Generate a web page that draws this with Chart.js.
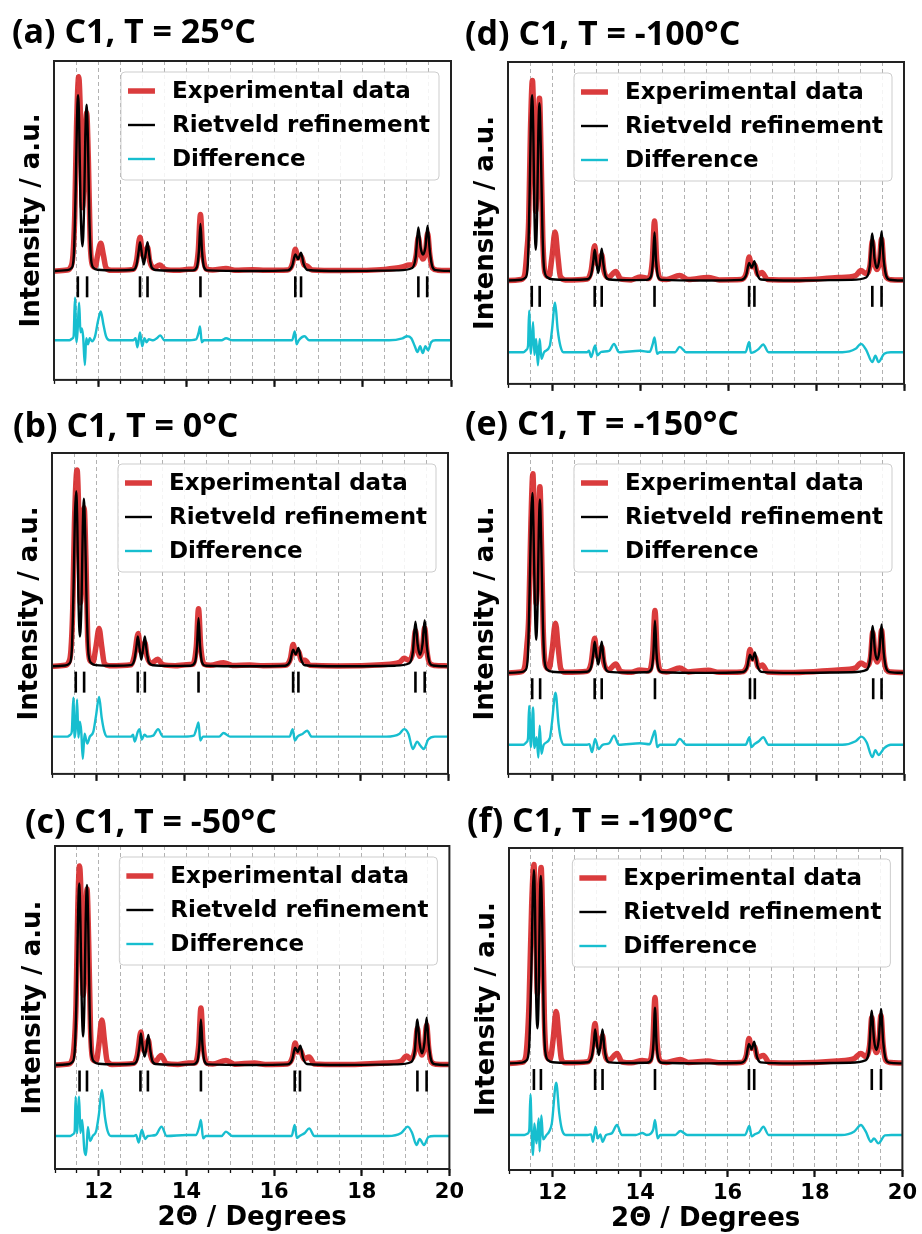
<!DOCTYPE html>
<html>
<head>
<meta charset="utf-8">
<script src="https://cdn.jsdelivr.net/npm/chart.js"></script>
<style>
  html, body { margin: 0; padding: 0; background: #fff; overflow: hidden; }
  body { width: 922px; height: 1234px; position: relative; }
  canvas { position: absolute; }
</style>
</head>
<body>
<script>
// shared axis values
const xMin = 11, xMax = 20;
const majorTicks = [12, 14, 16, 18, 20];
const seriesNames = ["Experimental data", "Rietveld refinement", "Difference"];
const tickRowY = -8; // level of the reflection markers, in data units

// ---- (a) T = 25°C ----
const markA = [11.54, 11.75, 12.95, 13.12, 14.32, 16.47, 16.60, 19.26, 19.46];
const expA = [[11.00,0],[11.30,0.5],[11.38,2],[11.43,8],[11.47,28],[11.51,72],[11.56,98],[11.60,78],[11.645,32],[11.69,52],[11.74,80],[11.78,55],[11.82,15],[11.87,3],[11.93,2],[11.99,8],[12.06,14],[12.12,8],[12.18,1.5],[12.30,0.3],[12.80,0.8],[12.87,5],[12.95,17],[13.00,9],[13.04,7],[13.08,9.5],[13.12,12],[13.17,5],[13.26,1.5],[13.40,3],[13.52,0.8],[13.80,0.3],[14.05,0.8],[14.20,1],[14.27,10],[14.32,28.5],[14.37,10],[14.45,1],[14.60,0.5],[14.90,1.3],[15.10,0.4],[15.50,0.6],[15.80,0.3],[16.30,0.5],[16.41,4],[16.47,11],[16.53,6.5],[16.60,7.5],[16.67,3],[16.74,2.5],[16.85,0.5],[17.50,0.2],[18.50,0.8],[18.90,2],[19.05,3],[19.15,3],[19.21,8],[19.26,17],[19.31,9],[19.365,6],[19.42,9],[19.47,19],[19.52,8],[19.58,1.5],[19.70,0.4],[20.00,0.2]];
const calcA = [[11.00,0],[11.30,0.4],[11.40,1.5],[11.45,8],[11.49,40],[11.52,75],[11.545,88.7],[11.57,75],[11.60,35],[11.645,12.5],[11.68,30],[11.71,68],[11.74,84],[11.77,65],[11.80,28],[11.84,6],[11.90,1.5],[12.00,0.6],[12.40,0.3],[12.80,0.6],[12.87,3],[12.92,10],[12.95,14.5],[12.99,9],[13.035,3.3],[13.08,9],[13.12,14.5],[13.16,8],[13.21,2],[13.30,0.5],[13.70,0.2],[14.15,0.3],[14.24,2],[14.285,10],[14.32,23.7],[14.355,10],[14.40,2],[14.48,0.3],[15.50,0],[16.30,0.3],[16.40,2.5],[16.47,8.3],[16.535,6],[16.60,9.2],[16.66,3.5],[16.75,0.5],[17.50,0],[18.80,0.3],[19.12,1.5],[19.20,7],[19.26,22],[19.31,12],[19.365,8.3],[19.42,12],[19.47,22.8],[19.52,10],[19.58,2],[19.66,0.4],[20.00,0]];
const diffA = [[11.00,-35],[11.35,-35],[11.42,-34],[11.445,-33],[11.475,-13.5],[11.51,-36],[11.535,-30],[11.57,-16],[11.60,-31],[11.63,-29],[11.66,-33],[11.70,-47.5],[11.73,-34],[11.77,-37],[11.81,-34],[11.86,-35.5],[11.93,-33],[12.00,-25],[12.06,-20.5],[12.12,-27],[12.18,-33],[12.26,-35],[12.80,-35],[12.85,-34],[12.89,-38.5],[12.95,-31],[13.00,-38],[13.05,-34],[13.10,-36],[13.15,-34.5],[13.25,-35],[13.33,-34],[13.41,-32.5],[13.50,-35],[14.00,-35],[14.22,-34.5],[14.28,-31],[14.31,-28],[14.35,-36],[14.40,-35],[14.80,-35],[14.90,-34],[15.05,-35],[16.40,-35],[16.46,-30.5],[16.50,-37],[16.55,-35],[16.68,-33],[16.78,-35],[18.60,-35],[18.90,-34],[19.00,-33],[19.10,-34],[19.18,-38],[19.24,-41],[19.30,-38],[19.36,-41.5],[19.42,-38],[19.48,-40],[19.55,-36],[19.65,-35],[20.00,-35]];

// ---- (b) T = 0°C ----
const markB = [11.54, 11.73, 12.95, 13.11, 14.33, 16.48, 16.60, 19.26, 19.47];
const expB = [[11.00,0],[11.30,0.5],[11.38,2],[11.43,8],[11.47,28],[11.51,72],[11.57,99],[11.61,75],[11.645,32],[11.69,52],[11.73,80],[11.77,55],[11.81,15],[11.86,3],[11.93,2],[12.00,10],[12.07,19],[12.13,10],[12.19,1.5],[12.30,0.3],[12.80,0.8],[12.87,5],[12.96,16.5],[13.00,9],[13.04,7],[13.08,9.5],[13.11,12],[13.16,5],[13.26,1.5],[13.40,3.5],[13.52,0.8],[13.80,0.3],[14.05,0.8],[14.20,1],[14.28,10],[14.33,29],[14.38,10],[14.46,1],[14.60,0.5],[14.90,1.8],[15.10,0.4],[15.50,0.6],[15.80,0.3],[16.30,0.5],[16.42,4],[16.48,11],[16.54,6.5],[16.60,7.5],[16.67,3],[16.75,3],[16.86,0.5],[17.50,0.2],[18.50,0.8],[18.90,2],[19.00,4],[19.12,3],[19.21,8],[19.26,18],[19.31,9],[19.365,5],[19.42,9],[19.47,19.5],[19.52,8],[19.58,1.5],[19.70,0.4],[20.00,0.2]];
const calcB = [[11.00,0],[11.30,0.4],[11.40,1.5],[11.45,8],[11.49,40],[11.52,75],[11.55,88.3],[11.575,72],[11.60,35],[11.635,15],[11.67,32],[11.70,70],[11.725,84.5],[11.755,65],[11.79,28],[11.83,6],[11.90,1.5],[12.00,0.6],[12.40,0.3],[12.80,0.6],[12.87,3],[12.92,10],[12.95,15],[12.99,9],[13.03,3.3],[13.07,9],[13.11,15],[13.15,8],[13.20,2],[13.30,0.5],[13.70,0.2],[14.15,0.3],[14.25,2],[14.295,10],[14.33,24.2],[14.365,10],[14.41,2],[14.49,0.3],[15.50,0],[16.30,0.3],[16.41,2.5],[16.48,8.3],[16.54,6],[16.60,9.2],[16.66,3.5],[16.75,0.5],[17.50,0],[18.80,0.3],[19.12,1.5],[19.20,7],[19.26,22.5],[19.31,11],[19.365,5.8],[19.42,11],[19.47,23.3],[19.52,10],[19.58,2],[19.66,0.4],[20.00,0]];
const diffB = [[11.00,-35.5],[11.35,-35.5],[11.42,-34.5],[11.45,-33],[11.485,-15.8],[11.515,-36],[11.545,-30],[11.57,-16.7],[11.60,-36],[11.635,-28],[11.665,-33],[11.70,-46.7],[11.74,-34],[11.80,-39],[11.86,-35.5],[11.94,-33],[12.00,-25],[12.07,-15.5],[12.13,-26],[12.19,-33],[12.25,-35.5],[12.80,-35.5],[12.84,-34.5],[12.88,-38],[12.95,-33],[12.99,-31.7],[13.04,-37],[13.10,-34.5],[13.16,-35.5],[13.30,-35],[13.41,-31.7],[13.52,-35.5],[14.00,-35.5],[14.22,-35],[14.29,-31],[14.33,-28.3],[14.37,-37.5],[14.43,-35.5],[14.80,-35.5],[14.90,-33.7],[15.05,-35.5],[16.40,-35.5],[16.47,-31.7],[16.52,-37.5],[16.58,-35.5],[16.70,-34],[16.80,-32.5],[16.90,-35.5],[18.60,-35.5],[18.90,-34],[19.00,-31.7],[19.10,-34],[19.20,-41.7],[19.30,-38],[19.37,-40],[19.45,-41.7],[19.55,-37],[19.70,-35.5],[20.00,-35.5]];

// ---- (c) T = -50°C ----
const markC = [11.56, 11.73, 12.95, 13.12, 14.33, 16.47, 16.59, 19.27, 19.48];
const expC = [[11.00,0],[11.30,0.5],[11.38,2],[11.43,8],[11.48,30],[11.52,78],[11.56,99.5],[11.60,80],[11.645,35],[11.69,60],[11.73,88],[11.77,60],[11.81,18],[11.86,3],[11.94,2],[12.00,10],[12.07,22.5],[12.13,12],[12.19,2],[12.30,0.3],[12.80,0.8],[12.88,5],[12.96,16.5],[13.00,9],[13.045,7],[13.09,10],[13.13,12.5],[13.18,5],[13.28,1.5],[13.42,4.8],[13.54,0.8],[13.80,0.3],[14.05,1],[14.20,1],[14.28,10],[14.33,28.5],[14.38,10],[14.46,1],[14.60,0.5],[14.90,2.3],[15.10,0.4],[15.55,1],[15.80,0.3],[16.30,0.5],[16.42,4],[16.48,11],[16.54,6.5],[16.60,7.5],[16.68,3],[16.80,4],[16.92,0.5],[17.50,0.2],[18.50,1],[18.90,2],[19.02,4.5],[19.12,3],[19.22,8],[19.27,18.5],[19.32,9],[19.375,5],[19.43,9],[19.48,20],[19.53,8],[19.59,1.5],[19.70,0.4],[20.00,0.2]];
const calcC = [[11.00,0],[11.30,0.4],[11.40,1.5],[11.45,7],[11.50,42],[11.53,78],[11.555,90.8],[11.58,72],[11.61,32],[11.64,14.2],[11.67,30],[11.70,72],[11.73,90],[11.76,68],[11.79,28],[11.83,6],[11.90,1.5],[12.00,0.6],[12.40,0.3],[12.80,0.6],[12.88,3],[12.93,10],[12.96,15.8],[13.00,9],[13.045,4.2],[13.09,9],[13.13,15],[13.17,8],[13.22,2],[13.30,0.5],[13.70,0.2],[14.15,0.3],[14.25,2],[14.295,10],[14.33,22.8],[14.365,10],[14.41,2],[14.49,0.3],[15.50,0],[16.30,0.3],[16.41,2.5],[16.48,8.7],[16.54,6.5],[16.60,9.7],[16.66,3.5],[16.75,0.5],[17.50,0],[18.80,0.3],[19.13,1.5],[19.21,7],[19.27,22.8],[19.32,11],[19.375,5.8],[19.43,11],[19.48,23.7],[19.53,10],[19.59,2],[19.67,0.4],[20.00,0]];
const diffC = [[11.00,-35.5],[11.35,-35.5],[11.42,-34.5],[11.45,-33],[11.47,-15.8],[11.50,-34],[11.55,-15.8],[11.58,-34],[11.62,-27.5],[11.67,-42.5],[11.71,-45],[11.75,-31],[11.80,-38],[11.86,-35.5],[11.94,-33],[12.00,-25],[12.07,-12.5],[12.14,-26],[12.20,-33],[12.28,-35.5],[12.80,-35.5],[12.85,-35],[12.91,-38.8],[12.98,-32.5],[13.06,-37],[13.12,-35.5],[13.30,-35],[13.43,-30.8],[13.55,-35.5],[14.00,-35],[14.22,-35],[14.29,-31],[14.33,-27.5],[14.38,-36.7],[14.44,-35.5],[14.80,-35.5],[14.90,-33.3],[15.05,-35.5],[16.40,-35.5],[16.47,-30],[16.52,-36.5],[16.58,-35.5],[16.70,-34],[16.80,-31.7],[16.92,-35.5],[18.60,-35.5],[18.90,-34],[19.05,-30.8],[19.15,-34],[19.25,-40],[19.32,-37],[19.42,-40],[19.52,-36],[19.65,-35.5],[20.00,-35.5]];

// ---- (d) T = -100°C ----
const markD = [11.54, 11.72, 12.97, 13.13, 14.33, 16.48, 16.60, 19.28, 19.49];
const expD = [[11.00,0],[11.30,0.5],[11.38,3],[11.43,15],[11.47,30],[11.51,75],[11.555,101],[11.595,70],[11.63,35],[11.67,60],[11.715,92],[11.75,65],[11.79,22],[11.84,4],[11.93,2],[12.00,12],[12.07,24.5],[12.13,13],[12.19,2],[12.30,0.3],[12.80,0.8],[12.89,5],[12.97,17.5],[13.01,10],[13.05,8],[13.09,10.5],[13.13,13],[13.18,5],[13.28,1.5],[13.45,4.5],[13.56,0.8],[13.80,0.3],[14.00,1.8],[14.20,1],[14.28,10],[14.33,30],[14.38,10],[14.46,1],[14.60,0.5],[14.90,2.5],[15.10,0.5],[15.55,1.5],[15.80,0.3],[16.30,0.5],[16.42,4],[16.48,11.8],[16.54,7],[16.60,8],[16.68,3],[16.77,4],[16.90,0.5],[17.50,0.2],[18.50,1.5],[18.90,2.5],[19.02,5],[19.14,3.5],[19.23,8],[19.28,20],[19.33,9],[19.385,5.5],[19.44,9],[19.49,21],[19.54,8],[19.60,1.5],[19.70,0.4],[20.00,0.2]];
const calcD = [[11.00,0],[11.30,0.4],[11.40,1.5],[11.45,8],[11.49,42],[11.52,80],[11.55,93.5],[11.575,75],[11.60,35],[11.63,15.5],[11.66,32],[11.69,75],[11.715,89.5],[11.745,68],[11.78,28],[11.82,6],[11.90,1.5],[12.00,0.6],[12.40,0.3],[12.80,0.6],[12.89,3],[12.94,10],[12.97,15.5],[13.01,9],[13.05,3.8],[13.09,9],[13.13,16],[13.17,8],[13.22,2],[13.30,0.5],[13.70,0.2],[14.15,0.3],[14.25,2],[14.295,10],[14.33,24.3],[14.365,10],[14.41,2],[14.49,0.3],[15.50,0],[16.30,0.3],[16.41,2.5],[16.48,8.8],[16.54,6.5],[16.60,9.7],[16.66,3.5],[16.75,0.5],[17.50,0],[18.80,0.3],[19.14,1.5],[19.22,7],[19.28,23.8],[19.33,11],[19.385,6.3],[19.44,11],[19.49,24.7],[19.54,10],[19.60,2],[19.68,0.4],[20.00,0]];
const diffD = [[11.00,-36.2],[11.35,-36.2],[11.42,-35],[11.455,-33],[11.48,-15.3],[11.52,-37],[11.57,-21],[11.60,-37.5],[11.64,-29.5],[11.68,-42.8],[11.72,-29.5],[11.76,-39.5],[11.82,-36.2],[11.95,-33],[12.00,-25],[12.07,-11.2],[12.13,-25],[12.19,-33],[12.26,-36.2],[12.80,-36.2],[12.84,-35.5],[12.89,-38.7],[12.98,-32.8],[13.03,-37.8],[13.12,-36],[13.30,-35.5],[13.41,-32],[13.52,-36.2],[14.00,-35.5],[14.22,-36],[14.29,-32],[14.33,-28.7],[14.39,-37],[14.45,-36.2],[14.80,-36.2],[14.90,-33.5],[15.05,-36.2],[16.40,-36.2],[16.48,-31],[16.52,-36.5],[16.60,-36],[16.70,-34.5],[16.80,-32.3],[16.92,-36.2],[18.60,-36.2],[18.90,-34.5],[19.02,-32],[19.14,-35],[19.28,-41.2],[19.35,-38],[19.42,-41.2],[19.55,-37],[19.70,-36.2],[20.00,-36.2]];

// ---- (e) T = -150°C ----
const markE = [11.55, 11.73, 12.97, 13.13, 14.34, 16.50, 16.61, 19.30, 19.49];
const expE = [[11.00,0],[11.30,0.5],[11.38,3],[11.43,14],[11.47,27.5],[11.52,75],[11.565,100.5],[11.60,72],[11.64,35],[11.68,62],[11.725,94],[11.76,65],[11.80,22],[11.85,4],[11.93,2],[12.00,11],[12.08,25],[12.14,13],[12.20,2],[12.30,0.3],[12.80,0.8],[12.89,5],[12.97,17.5],[13.01,10],[13.05,8],[13.09,10.5],[13.13,13],[13.18,5],[13.28,1.5],[13.45,4.5],[13.56,0.8],[13.80,0.3],[14.00,1.5],[14.20,1],[14.29,10],[14.34,31.5],[14.39,10],[14.47,1],[14.60,0.5],[14.90,2.5],[15.10,0.5],[15.55,1.3],[15.80,0.3],[16.30,0.5],[16.44,4],[16.50,11.8],[16.56,7],[16.61,8],[16.69,3],[16.78,4],[16.90,0.5],[17.50,0.2],[18.50,1.5],[18.90,2.5],[19.02,5],[19.15,3.5],[19.24,8],[19.29,20.5],[19.34,9],[19.39,5.5],[19.44,9],[19.49,21.5],[19.54,8],[19.60,1.5],[19.70,0.4],[20.00,0.2]];
const calcE = [[11.00,0],[11.30,0.4],[11.40,1.5],[11.45,8],[11.49,40],[11.525,78],[11.555,90.8],[11.58,72],[11.61,35],[11.64,16.7],[11.67,32],[11.70,72],[11.725,87.5],[11.755,66],[11.79,28],[11.83,6],[11.90,1.5],[12.00,0.6],[12.40,0.3],[12.80,0.6],[12.89,3],[12.94,10],[12.97,15.8],[13.01,9],[13.05,4.2],[13.09,9],[13.13,15.8],[13.17,8],[13.22,2],[13.30,0.5],[13.70,0.2],[14.15,0.3],[14.26,2],[14.305,10],[14.34,26.3],[14.375,10],[14.42,2],[14.50,0.3],[15.50,0],[16.30,0.3],[16.43,2.5],[16.50,9.2],[16.555,6.5],[16.61,10.3],[16.67,3.5],[16.76,0.5],[17.50,0],[18.80,0.3],[19.15,1.5],[19.23,7],[19.29,23.7],[19.34,11],[19.39,6.7],[19.44,11],[19.49,24.5],[19.54,10],[19.60,2],[19.68,0.4],[20.00,0]];
const diffE = [[11.00,-36.3],[11.35,-36.3],[11.42,-35],[11.455,-33],[11.48,-16.7],[11.52,-37.5],[11.57,-17.5],[11.60,-38],[11.65,-32.5],[11.69,-42.8],[11.72,-26.7],[11.76,-40.8],[11.81,-36.3],[11.95,-33],[12.00,-25],[12.08,-10],[12.15,-26],[12.20,-33],[12.27,-36.3],[12.80,-36.3],[12.85,-36],[12.91,-40],[12.98,-33.3],[13.06,-38.5],[13.15,-36.3],[13.30,-35.5],[13.41,-31.7],[13.52,-36.3],[14.00,-35.5],[14.22,-36],[14.29,-32],[14.34,-29.2],[14.39,-37.5],[14.45,-36.3],[14.80,-36.3],[14.90,-33.3],[15.05,-36.3],[16.40,-36.3],[16.49,-32.5],[16.53,-37.5],[16.60,-36],[16.70,-34.5],[16.80,-32.5],[16.92,-36.3],[18.60,-36.3],[18.90,-34.5],[19.03,-32.2],[19.15,-35],[19.28,-42.5],[19.35,-39],[19.42,-41.5],[19.55,-38],[19.70,-36.3],[20.00,-36.3]];

// ---- (f) T = -190°C ----
const markF = [11.57, 11.73, 12.97, 13.14, 14.34, 16.49, 16.61, 19.30, 19.51];
const expF = [[11.00,0],[11.30,0.5],[11.38,3],[11.43,16],[11.46,31],[11.52,80],[11.57,99.5],[11.61,70],[11.65,35],[11.69,70],[11.735,98],[11.77,70],[11.81,22],[11.86,4],[11.94,2],[12.01,12],[12.08,26],[12.14,14],[12.20,2],[12.30,0.3],[12.80,0.8],[12.89,5],[12.97,20],[13.01,11],[13.055,8],[13.10,11],[13.14,14],[13.19,5],[13.29,1.5],[13.47,5],[13.58,0.8],[13.80,0.3],[14.05,1.5],[14.20,1],[14.29,10],[14.34,33],[14.39,10],[14.47,1],[14.60,0.5],[14.92,2],[15.10,0.5],[15.55,1.2],[15.80,0.3],[16.30,0.5],[16.43,4],[16.49,12.5],[16.55,7.5],[16.61,8.5],[16.69,3],[16.82,4],[16.95,0.5],[17.50,0.2],[18.50,1.2],[18.90,2.5],[19.05,5],[19.16,3.5],[19.25,9],[19.30,23],[19.35,10],[19.405,5.5],[19.46,10],[19.51,24],[19.56,9],[19.62,1.5],[19.72,0.4],[20.00,0.2]];
const calcF = [[11.00,0],[11.30,0.4],[11.40,1.5],[11.46,8],[11.51,45],[11.545,85],[11.57,96.7],[11.595,78],[11.62,35],[11.65,17.5],[11.68,35],[11.705,80],[11.73,93.7],[11.76,70],[11.79,28],[11.83,6],[11.90,1.5],[12.00,0.6],[12.40,0.3],[12.80,0.6],[12.89,3],[12.94,10],[12.97,17],[13.01,10],[13.055,4.2],[13.10,10],[13.14,17],[13.18,8],[13.23,2],[13.30,0.5],[13.70,0.2],[14.15,0.3],[14.26,2],[14.305,10],[14.34,27.8],[14.375,10],[14.42,2],[14.50,0.3],[15.50,0],[16.30,0.3],[16.42,2.5],[16.49,9.7],[16.55,7],[16.61,10.8],[16.67,3.5],[16.76,0.5],[17.50,0],[18.80,0.3],[19.15,1.5],[19.24,7],[19.30,26.3],[19.35,12],[19.405,6.7],[19.46,12],[19.51,27.2],[19.56,11],[19.62,2],[19.70,0.4],[20.00,0]];
const diffF = [[11.00,-35.8],[11.35,-35.8],[11.43,-35],[11.465,-33],[11.49,-15.5],[11.52,-35],[11.55,-45.8],[11.58,-30],[11.63,-40],[11.68,-27.5],[11.70,-44],[11.74,-26],[11.78,-38],[11.85,-36],[11.92,-34],[11.98,-30],[12.08,-9.7],[12.15,-25],[12.21,-33],[12.30,-35.8],[12.80,-35.8],[12.88,-35.5],[12.92,-39.2],[12.98,-31.7],[13.03,-37.5],[13.09,-35.5],[13.14,-39.2],[13.22,-35.8],[13.35,-35],[13.47,-30.8],[13.58,-35.8],[13.90,-35.8],[14.05,-34.8],[14.15,-35.8],[14.25,-35],[14.30,-33],[14.34,-28.3],[14.40,-37.5],[14.46,-35.8],[14.80,-35.8],[14.92,-33.8],[15.08,-35.8],[16.40,-35.8],[16.50,-31.3],[16.55,-36.5],[16.62,-35.5],[16.72,-34.5],[16.82,-31.7],[16.94,-35.8],[18.60,-35.8],[18.90,-34],[19.05,-30.8],[19.16,-34],[19.28,-39.2],[19.35,-37.5],[19.45,-40],[19.60,-36],[19.75,-35.8],[20.00,-35.8]];

// panel layout: plot area [left, top, right, bottom] on the page, title anchor [x, y centre]
const panels = [
  { title: "(a) C1, T = 25°C",   exp: expA, calc: calcA, diff: diffA, marks: markA, yMin: -55,   yMax: 106,   area: [54, 61, 451, 383],   titleAt: [12, 33],   bottomRow: false },
  { title: "(b) C1, T = 0°C",    exp: expB, calc: calcB, diff: diffB, marks: markB, yMin: -54.3, yMax: 107.6, area: [52, 453, 448, 777],  titleAt: [13, 427],  bottomRow: false },
  { title: "(c) C1, T = -50°C",  exp: expC, calc: calcC, diff: diffC, marks: markC, yMin: -52,   yMax: 109.5, area: [55, 846, 452, 1169], titleAt: [25, 823],  bottomRow: true },
  { title: "(d) C1, T = -100°C", exp: expD, calc: calcD, diff: diffD, marks: markD, yMin: -52.2, yMax: 110.3, area: [508, 62, 904, 387],  titleAt: [465, 35],  bottomRow: false },
  { title: "(e) C1, T = -150°C", exp: expE, calc: calcE, diff: diffE, marks: markE, yMin: -51,   yMax: 111,   area: [508, 453, 904, 777], titleAt: [465, 425], bottomRow: false },
  { title: "(f) C1, T = -190°C", exp: expF, calc: calcF, diff: diffF, marks: markF, yMin: -53.3, yMax: 107.7, area: [509, 848, 905, 1170], titleAt: [467, 822], bottomRow: true }
];

Chart.defaults.font.family = "'DejaVu Sans', sans-serif";
Chart.defaults.color = "#000";

const toXY = (pairs) => pairs.map(([x, y]) => ({ x: x, y: y }));

// box around the plot + matplotlib-like legend in the upper right corner
const frameLegend = {
  id: "frameLegend",
  afterDraw(chart) {
    const ctx = chart.ctx, a = chart.chartArea;
    ctx.save();
    ctx.strokeStyle = "#222";
    ctx.lineWidth = 2;
    ctx.strokeRect(a.left, a.top, a.right - a.left, a.bottom - a.top);

    ctx.font = "bold 23px 'DejaVu Sans'";
    const items = chart.data.datasets.filter(d => d.label);
    const textW = Math.max(...items.map(d => ctx.measureText(d.label).width));
    const boxW = 7 + 27 + 17 + textW + 9, boxH = 108;
    const bx = a.right - 12 - boxW, by = a.top + 11;
    ctx.beginPath();
    ctx.roundRect(bx, by, boxW, boxH, 4);
    ctx.fillStyle = "rgba(255,255,255,0.85)";
    ctx.fill();
    ctx.strokeStyle = "rgba(200,200,200,0.9)";
    ctx.lineWidth = 1;
    ctx.stroke();
    items.forEach((d, i) => {
      const y = by + 19 + i * 34;
      ctx.beginPath();
      ctx.moveTo(bx + 7, y);
      ctx.lineTo(bx + 34, y);
      ctx.strokeStyle = d.borderColor;
      ctx.lineWidth = d.borderWidth;
      ctx.stroke();
      ctx.fillStyle = "#000";
      ctx.textBaseline = "middle";
      ctx.fillText(d.label, bx + 51, y + 1);
    });
    ctx.restore();
  }
};

function makePanel(p) {
  const [L, T, R, B] = p.area;
  const [tx, ty] = p.titleAt;
  const padL = 4, padR = 16;
  const cLeft = tx - padL, cTop = ty - 20;
  const axisH = p.bottomRow ? 72 : 10;
  const cw = R + padR - cLeft, ch = B + axisH - cTop;

  const canvas = document.createElement("canvas");
  canvas.width = cw; canvas.height = ch;
  canvas.style.left = cLeft + "px"; canvas.style.top = cTop + "px";
  canvas.style.width = cw + "px"; canvas.style.height = ch + "px";
  document.body.appendChild(canvas);

  const titleSize = 34;
  const titlePadTop = 20 - titleSize / 2;
  const titlePadBottom = (T - cTop) - titlePadTop - titleSize;
  const yTitleSize = 26;
  const yTitlePad = (L - 22 - tx) - yTitleSize / 2;

  new Chart(canvas, {
    type: "line",
    data: {
      datasets: [
        { label: seriesNames[0], data: toXY(p.exp), borderColor: "rgba(214,39,40,0.9)", borderWidth: 5.5,
          pointRadius: 0, cubicInterpolationMode: "monotone", order: 3 },
        { label: seriesNames[1], data: toXY(p.calc), borderColor: "#000", borderWidth: 2.4,
          pointRadius: 0, cubicInterpolationMode: "monotone", order: 1 },
        { label: seriesNames[2], data: toXY(p.diff), borderColor: "#17becf", borderWidth: 2.4,
          pointRadius: 0, cubicInterpolationMode: "monotone", order: 2 },
        { data: p.marks.map(x => ({ x: x, y: tickRowY })), showLine: false, borderColor: "#000",
          pointStyle: "line", pointRotation: 90, pointRadius: 10.5, pointBorderWidth: 2.6,
          pointBorderColor: "#000", order: 0 }
      ]
    },
    options: {
      responsive: false,
      animation: false,
      events: [],
      layout: { padding: { left: padL, right: padR, top: 0, bottom: 0 } },
      plugins: {
        legend: { display: false },
        tooltip: { enabled: false },
        title: {
          display: true, text: p.title, align: "start", color: "#000",
          font: { family: "'Open Sans'", size: titleSize, weight: "bold", lineHeight: 1 },
          padding: { top: titlePadTop, bottom: titlePadBottom }
        }
      },
      scales: {
        x: {
          type: "linear", position: "bottom", weight: 1, min: xMin, max: xMax,
          afterBuildTicks: s => { s.ticks = majorTicks.map(v => ({ value: v })); },
          afterFit: s => { s.height = axisH; },
          grid: { drawOnChartArea: false, drawTicks: true, tickLength: 7, tickWidth: 2.2, tickColor: "#111" },
          border: { display: false },
          ticks: { display: p.bottomRow, maxRotation: 0, autoSkip: false, padding: 4,
                   font: { size: 21, weight: "bold" }, color: "#000" },
          title: { display: p.bottomRow, text: "2Θ / Degrees", color: "#000",
                   font: { size: 26, weight: "bold", lineHeight: 1 }, padding: { top: 0, bottom: 10 } }
        },
        x2: {
          type: "linear", axis: "x", position: "bottom", weight: 0, min: xMin, max: xMax,
          afterFit: s => { s.height = 0; },
          ticks: { display: false, stepSize: 0.5 },
          grid: { drawOnChartArea: true, color: "rgba(0,0,0,0.3)", lineWidth: 1,
                  drawTicks: true, tickLength: 4, tickWidth: 1.3, tickColor: "#111" },
          border: { display: false, dash: [4, 3] }
        },
        y: {
          type: "linear", min: p.yMin, max: p.yMax,
          afterFit: s => { s.width = L - cLeft - padL; },
          ticks: { display: false },
          grid: { display: false },
          border: { display: false },
          title: { display: true, text: "Intensity / a.u.", color: "#000",
                   font: { size: yTitleSize, weight: "bold", lineHeight: 1 }, padding: { top: yTitlePad, bottom: 0 } }
        }
      }
    },
    plugins: [frameLegend]
  });
}

panels.forEach(makePanel);
</script>
</body>
</html>
